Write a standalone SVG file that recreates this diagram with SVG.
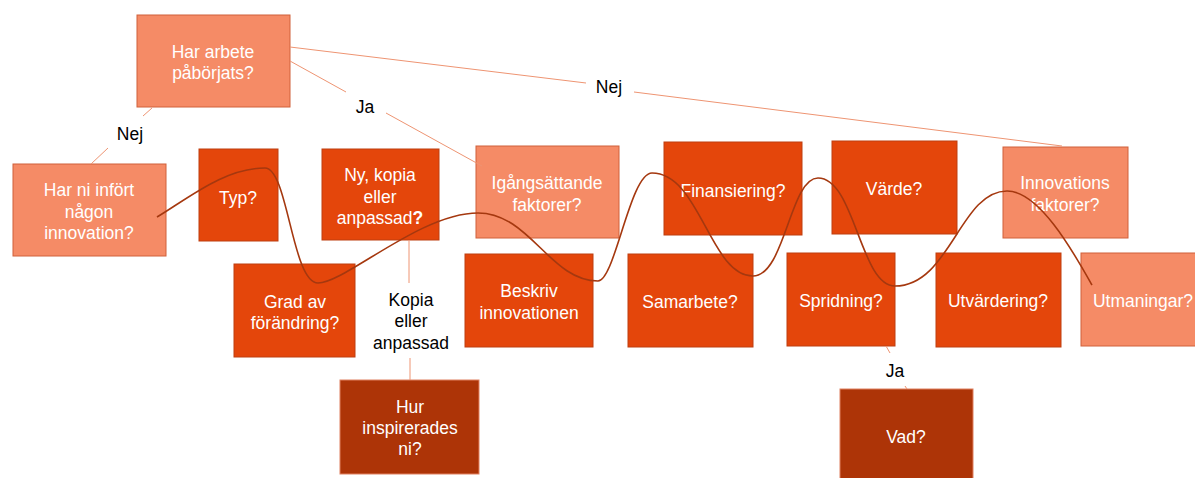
<svg xmlns="http://www.w3.org/2000/svg" width="1195" height="478" viewBox="0 0 1195 478">
<style>
.l{fill:#F58B66;stroke:#D0603A;stroke-width:1}
.m{fill:#E4460B;stroke:#BE3E10;stroke-width:1}
.d{fill:#AD3407;stroke:#E08060;stroke-width:1}
.t{font-family:"Liberation Sans",Arial,sans-serif;font-size:17.5px;fill:#FFFFFF;text-anchor:middle}
.lab{font-family:"Liberation Sans",Arial,sans-serif;font-size:17.5px;fill:#000000;text-anchor:middle}
.c{stroke:#EE9472;stroke-width:1;fill:none}
.w{stroke:#A5380F;stroke-width:1.6;fill:none}
</style>
<rect width="1195" height="478" fill="#FFFFFF"/>
<g id="n-arbete"><rect class="l" x="137" y="15" width="153" height="92"/><text class="t" x="213" y="58">Har arbete</text><text class="t" x="213" y="79">påbörjats?</text></g>
<g id="n-infort"><rect class="l" x="13" y="164" width="153" height="92"/><text class="t" x="89" y="196">Har ni infört</text><text class="t" x="89" y="218">någon</text><text class="t" x="89" y="239">innovation?</text></g>
<g id="n-typ"><rect class="m" x="199" y="149" width="79" height="92"/><text class="t" x="238" y="204">Typ?</text></g>
<g id="n-ny"><rect class="m" x="322" y="149" width="117" height="91"/><text class="t" x="380" y="181">Ny, kopia</text><text class="t" x="380" y="203">eller</text><text class="t" x="380" y="224">anpassad<tspan font-weight="bold">?</tspan></text></g>
<g id="n-igang"><rect class="l" x="476" y="146" width="143" height="92"/><text class="t" x="547" y="189">Igångsättande</text><text class="t" x="547" y="211">faktorer?</text></g>
<g id="n-grad"><rect class="m" x="234" y="264" width="121" height="93"/><text class="t" x="295" y="308">Grad av</text><text class="t" x="295" y="329">förändring?</text></g>
<g id="n-hur"><rect class="d" x="340" y="380" width="139" height="94"/><text class="t" x="410" y="413">Hur</text><text class="t" x="410" y="434">inspirerades</text><text class="t" x="410" y="455">ni?</text></g>
<g id="n-beskriv"><rect class="m" x="465" y="254" width="128" height="93"/><text class="t" x="529" y="297">Beskriv</text><text class="t" x="529" y="319">innovationen</text></g>
<g id="n-finans"><rect class="m" x="664" y="142" width="138" height="93"/><text class="t" x="733" y="197">Finansiering?</text></g>
<g id="n-samarbete"><rect class="m" x="628" y="254" width="125" height="93"/><text class="t" x="690" y="308">Samarbete?</text></g>
<g id="n-varde"><rect class="m" x="832" y="141" width="125" height="93"/><text class="t" x="894" y="195">Värde?</text></g>
<g id="n-spridning"><rect class="m" x="787" y="253" width="108" height="93"/><text class="t" x="841" y="307">Spridning?</text></g>
<g id="n-innov"><rect class="l" x="1003" y="147" width="125" height="91"/><text class="t" x="1065" y="189">Innovations</text><text class="t" x="1065" y="211">faktorer?</text></g>
<g id="n-utvardering"><rect class="m" x="936" y="253" width="125" height="94"/><text class="t" x="998" y="307">Utvärdering?</text></g>
<g id="n-utmaningar"><rect class="l" x="1081" y="253" width="124" height="93"/><text class="t" x="1143" y="307">Utmaningar?</text></g>
<g id="n-vad"><rect class="d" x="840" y="389" width="133" height="95"/><text class="t" x="906" y="443">Vad?</text></g>
<g id="connectors">
<line class="c" x1="290" y1="47" x2="586" y2="83"/>
<line class="c" x1="634" y1="92" x2="1062" y2="146"/>
<text class="lab" x="609" y="93">Nej</text>
<line class="c" x1="290" y1="61" x2="346" y2="92"/>
<line class="c" x1="386" y1="113" x2="482" y2="166"/>
<text class="lab" x="365" y="113">Ja</text>
<line class="c" x1="152" y1="108" x2="143" y2="116"/>
<line class="c" x1="108" y1="148" x2="91" y2="164"/>
<text class="lab" x="130" y="140">Nej</text>
<line class="c" x1="409" y1="240" x2="409" y2="283"/>
<line class="c" x1="410" y1="358" x2="410" y2="380"/>
<text class="lab" x="411" y="306">Kopia</text>
<text class="lab" x="411" y="327">eller</text>
<text class="lab" x="411" y="349">anpassad</text>
<line class="c" x1="886" y1="346" x2="890" y2="353"/>
<line class="c" x1="905" y1="386" x2="907" y2="389"/>
<text class="lab" x="895" y="377">Ja</text>
<path class="w" d="M157,217 C190,197 225,168 265,168 C288,168 292,283 318,283 C345,283 420,213 478,213 C530,213 550,281 598,281 C615,281 630,173 652,173 C700,173 710,276 753,276 C785,276 790,178 818,178 C855,178 860,286 895,286 C950,286 960,191 1007,191 C1040,191 1075,255 1092,285"/>
</g>
</svg>
